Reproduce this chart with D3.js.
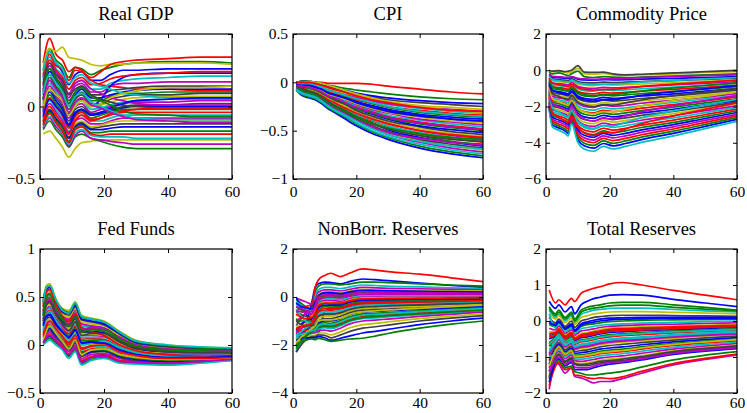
<!DOCTYPE html>
<html>
<head>
<meta charset="utf-8">
<script src="https://cdn.jsdelivr.net/npm/d3@7"></script>
<style>
  body { margin: 0; background: #fff; }
  text { font-family: "Palatino Linotype", "Book Antiqua", Palatino, "Liberation Serif", serif; fill: #000; }
</style>
</head>
<body>
<div id="wrapper"></div>
<script>
// all responses are stored in hundredths (value * 100)

const titles = ["Real GDP", "CPI", "Commodity Price", "Fed Funds", "NonBorr. Reserves", "Total Reserves"]
const xTicks = [0, 20, 40, 60]
const yTicks = [
  [-0.5, 0, 0.5],
  [-1, -0.5, 0, 0.5],
  [-6, -4, -2, 0, 2],
  [-0.5, 0, 0.5, 1],
  [-4, -2, 0, 2],
  [-2, -1, 0, 1, 2],
]

const gdpT = [1, 3, 5, 7, 9, 11, 13, 16, 19, 22, 26, 30, 40, 50, 60]
const gdpLines = [
  [20, 38, 30, 24, 15, 22, 24, 18, 18, 22, 25, 25, 26, 26, 26],
  [25, 40, 32, 28, 20, 27, 26, 22, 25, 27, 29, 30, 31, 31, 30],
  [30, 47, 36, 32, 24, 27, 25, 18, 15, 14, 13, 12, 12, 11, 11],
  [18, 34, 26, 22, 12, 16, 18, 12, 12, 16, 18, 19, 20, 21, 21],
  [12, 28, 22, 16, 6, 14, 16, 10, 10, 14, 16, 16, 17, 17, 17],
  [28, 40, 38, 41, 34, 33, 32, 29, 28, 29, 29, 30, 30, 30, 29],
  [10, 26, 20, 14, 4, 10, 14, 8, 8, 11, 12, 13, 14, 14, 14],
  [5, 18, 10, 4, -5, 2, 5, 0, 5, 14, 20, 22, 23, 23, 23],
  [6, 22, 14, 10, 0, 6, 10, 4, 4, 7, 9, 9, 10, 10, 10],
  [22, 36, 28, 26, 18, 25, 24, 20, 24, 29, 31, 32, 33, 34, 34],
  [2, 16, 10, 4, -6, 2, 4, -2, -1, 1, 3, 4, 5, 5, 5],
  [0, 14, 8, 2, -8, 0, 2, -4, -2, 0, 2, 3, 3, 4, 4],
  [-19, -17, -22, -28, -35, -29, -25, -24, -23, -23, -23, -23, -23, -23, -23],
  [-2, 12, 6, 0, -10, -2, 0, -5, -4, -2, 0, 1, 1, 2, 2],
  [8, 24, 18, 12, 2, 8, 12, 6, 6, 8, 10, 11, 12, 12, 12],
  [-16, -10, -16, -21, -28, -21, -19, -22, -24, -26, -28, -29, -29, -29, -29],
  [15, 32, 25, 20, 12, 18, 20, 15, 16, 19, 21, 22, 23, 24, 24],
  [-6, 4, -2, -8, -17, -9, -6, -10, -10, -8, -6, -6, -6, -6, -6],
  [-15, -8, -14, -19, -27, -20, -17, -22, -23, -24, -25, -26, -26, -26, -26],
  [3, 18, 12, 6, -4, 3, 6, 0, 1, 3, 5, 6, 7, 7, 7],
  [-10, -2, -8, -13, -21, -13, -11, -15, -14, -13, -12, -12, -12, -12, -12],
  [-3, 10, 4, -2, -12, -4, -2, -6, -5, -3, -1, 0, 0, 0, 0],
  [-4, 8, 2, -4, -14, -6, -3, -8, -6, -4, -2, -2, -2, -2, -2],
  [-5, 6, 0, -6, -15, -7, -4, -9, -8, -6, -4, -4, -4, -4, -4],
  [-14, -7, -12, -18, -26, -18, -16, -20, -21, -21, -21, -22, -22, -22, -22],
  [-8, 2, -4, -10, -18, -10, -8, -12, -12, -10, -8, -8, -8, -8, -8],
  [-9, 0, -6, -12, -20, -12, -10, -14, -13, -11, -10, -10, -10, -10, -10],
  [5, 20, 13, 8, -2, 5, 8, 2, 2, 5, 7, 8, 8, 9, 9],
  [-11, -3, -9, -14, -22, -14, -12, -16, -16, -15, -14, -14, -14, -14, -14],
  [-12, -4, -10, -15, -24, -15, -13, -18, -18, -17, -17, -17, -17, -17, -17],
  [-13, -5, -11, -17, -25, -16, -14, -19, -20, -19, -19, -19, -19, -19, -19],
  [24, 38, 30, 26, 16, 20, 22, 16, 14, 12, 9, 8, 6, 6, 6],
  [14, 30, 24, 18, 9, 16, 18, 12, 9, 6, 4, 2, 1, 1, 1],
  [-1, 12, 8, 4, -6, 0, 4, 0, 2, 6, 9, 11, 13, 13, 14],
  [16, 30, 22, 18, 8, 12, 14, 8, 5, 3, 1, 0, -1, -1, -1],
  [-7, 5, 0, -5, -13, -5, -2, -6, -4, -1, 2, 4, 5, 6, 6],
  [11, 26, 19, 12, 2, 10, 13, 7, 4, 1, -3, -5, -6, -7, -7],
  [-10, 0, -6, -12, -19, -10, -6, -10, -8, -5, -3, -2, -1, -1, -1],
  [9, 22, 16, 10, 0, 7, 9, 3, 0, -3, -6, -8, -9, -9, -9],
  [4, 18, 12, 6, -4, 3, 6, 1, -1, -4, -7, -9, -10, -11, -11],
]

const cpiT = [1, 3, 5, 7, 9, 11, 13, 16, 20, 25, 30, 40, 50, 60]
const cpiLines = [
  [-8, -14, -16, -18, -22, -27, -31, -37, -45, -53, -59, -68, -74, -78],
  [-7, -13, -15, -17, -21, -26, -30, -35, -43, -51, -57, -66, -72, -76],
  [0, 0, 0, 0, 0, -1, -1, -1, -1, -2, -4, -7, -10, -12],
  [-9, -12, -14, -16, -20, -25, -29, -34, -42, -50, -56, -64, -70, -74],
  [-6, -8, -10, -13, -17, -22, -26, -31, -39, -47, -54, -62, -68, -72],
  [-5, -7, -9, -12, -15, -21, -25, -30, -38, -45, -52, -60, -66, -70],
  [-7, -9, -11, -13, -17, -22, -25, -30, -38, -45, -51, -59, -64, -68],
  [-4, -6, -8, -10, -14, -19, -23, -28, -35, -42, -49, -57, -62, -66],
  [-6, -8, -9, -12, -15, -20, -23, -28, -35, -42, -48, -55, -61, -64],
  [-3, -5, -7, -9, -12, -17, -21, -25, -33, -40, -45, -53, -58, -62],
  [-5, -7, -8, -11, -14, -18, -22, -26, -33, -39, -45, -52, -57, -60],
  [-2, -4, -5, -8, -11, -15, -19, -23, -30, -37, -42, -50, -55, -58],
  [-4, -6, -7, -9, -12, -16, -20, -24, -30, -36, -41, -48, -53, -56],
  [-3, -5, -6, -8, -11, -15, -18, -22, -29, -35, -40, -46, -51, -54],
  [-2, -4, -5, -7, -10, -14, -17, -21, -27, -33, -38, -45, -49, -52],
  [-3, -4, -6, -8, -11, -14, -17, -21, -27, -32, -37, -43, -47, -50],
  [-1, -2, -4, -6, -9, -12, -15, -19, -25, -30, -35, -41, -45, -48],
  [-2, -3, -5, -6, -9, -13, -15, -19, -24, -29, -34, -39, -43, -46],
  [-1, -2, -4, -5, -8, -11, -14, -17, -23, -28, -32, -38, -41, -44],
  [-2, -3, -4, -6, -8, -12, -14, -17, -22, -27, -31, -36, -40, -42],
  [0, -1, -2, -4, -6, -10, -12, -15, -20, -25, -29, -34, -38, -40],
  [-1, -2, -3, -5, -7, -10, -12, -15, -20, -24, -28, -33, -36, -38],
  [0, -1, -2, -4, -6, -9, -11, -14, -18, -22, -26, -31, -34, -36],
  [-1, -2, -3, -4, -6, -9, -11, -13, -18, -21, -25, -29, -32, -34],
  [0, 0, -1, -3, -5, -8, -10, -12, -16, -20, -23, -27, -30, -32],
  [-1, 0, -1, -2, -4, -7, -9, -12, -15, -19, -22, -26, -28, -30],
  [0, 1, 0, -1, -3, -6, -8, -11, -14, -17, -20, -24, -26, -28],
  [0, 1, 1, 0, -2, -5, -7, -9, -12, -15, -18, -21, -23, -25],
  [0, 1, 1, 0, -2, -4, -6, -8, -11, -14, -16, -19, -21, -22],
  [0, 1, 1, 0, -1, -3, -4, -6, -8, -10, -12, -15, -17, -18],
  [-3, -6, -9, -11, -14, -18, -21, -26, -32, -38, -43, -50, -54, -57],
  [-1, -2, -2, -3, -5, -8, -10, -13, -17, -21, -25, -30, -33, -35],
  [-6, -10, -12, -14, -18, -23, -27, -32, -39, -46, -52, -58, -62, -65],
  [0, 0, 1, 0, -1, -3, -5, -8, -12, -16, -20, -25, -29, -31],
  [-4, -7, -9, -11, -15, -20, -24, -29, -36, -43, -48, -55, -59, -61],
  [-2, -3, -3, -5, -7, -11, -13, -16, -21, -26, -30, -35, -38, -40],
  [-5, -9, -11, -13, -16, -21, -25, -29, -36, -42, -47, -53, -57, -59],
  [0, 0, 0, -1, -3, -5, -7, -10, -14, -18, -21, -26, -29, -30],
  [-7, -11, -13, -15, -19, -24, -28, -33, -40, -48, -54, -61, -66, -69],
  [-3, -4, -5, -7, -10, -14, -16, -20, -26, -31, -36, -42, -46, -49],
]

const commT = [1, 2, 4, 6, 7, 8, 10, 12, 15, 18, 21, 25, 30, 40, 50, 60]
const commLines = [
  [-211, -301, -318, -335, -348, -284, -383, -417, -430, -404, -417, -404, -383, -348, -310, -271],
  [-203, -291, -307, -324, -336, -274, -369, -403, -415, -390, -403, -390, -369, -336, -299, -261],
  [-196, -280, -296, -312, -324, -264, -356, -388, -400, -376, -388, -376, -356, -324, -288, -252],
  [-219, -313, -331, -349, -362, -295, -398, -434, -447, -420, -434, -420, -398, -362, -322, -282],
  [-189, -270, -285, -300, -312, -254, -343, -373, -385, -362, -373, -362, -343, -312, -277, -243],
  [-5, -8, -5, -12, -15, -10, 10, -20, -22, -18, -25, -28, -25, -20, -12, -8],
  [0, -5, -2, -8, -5, 0, 25, -10, -12, -10, -20, -25, -22, -15, -8, 0],
  [-181, -259, -274, -289, -300, -244, -329, -359, -370, -348, -359, -348, -329, -300, -266, -233],
  [-174, -249, -263, -277, -288, -234, -316, -344, -355, -334, -344, -334, -316, -288, -256, -224],
  [-167, -238, -252, -265, -275, -224, -303, -330, -340, -320, -330, -320, -303, -275, -245, -214],
  [-159, -228, -241, -254, -263, -215, -289, -315, -325, -306, -315, -306, -289, -263, -234, -205],
  [-152, -217, -229, -242, -251, -205, -276, -301, -310, -291, -301, -291, -276, -251, -223, -195],
  [-145, -207, -218, -230, -239, -195, -263, -286, -295, -277, -286, -277, -263, -239, -212, -186],
  [-137, -196, -207, -218, -227, -185, -249, -272, -280, -263, -272, -263, -249, -227, -202, -176],
  [-130, -186, -196, -207, -215, -175, -236, -257, -265, -249, -257, -249, -236, -215, -191, -167],
  [-123, -175, -185, -195, -203, -165, -223, -243, -250, -235, -243, -235, -223, -203, -180, -158],
  [-115, -165, -174, -183, -190, -155, -209, -228, -235, -221, -228, -221, -209, -190, -169, -148],
  [-108, -154, -163, -172, -178, -145, -196, -213, -220, -207, -213, -207, -196, -178, -158, -139],
  [-100, -144, -152, -160, -166, -135, -182, -199, -205, -193, -199, -193, -182, -166, -148, -129],
  [-93, -133, -141, -148, -154, -125, -169, -184, -190, -179, -184, -179, -169, -154, -137, -120],
  [-86, -123, -130, -137, -142, -116, -156, -170, -175, -165, -170, -165, -156, -142, -126, -110],
  [-78, -112, -118, -125, -130, -106, -142, -155, -160, -150, -155, -150, -142, -130, -115, -101],
  [-71, -102, -107, -113, -117, -96, -129, -141, -145, -136, -141, -136, -129, -117, -104, -91],
  [-64, -91, -96, -101, -105, -86, -116, -126, -130, -122, -126, -122, -116, -105, -94, -82],
  [-56, -81, -85, -90, -93, -76, -102, -112, -115, -108, -112, -108, -102, -93, -83, -72],
  [-49, -70, -74, -78, -81, -66, -89, -97, -100, -94, -97, -94, -89, -81, -72, -63],
  [-42, -60, -63, -66, -69, -56, -76, -82, -85, -80, -82, -80, -76, -69, -61, -54],
  [-34, -49, -52, -55, -57, -46, -62, -68, -70, -66, -68, -66, -62, -57, -50, -44],
  [-27, -39, -41, -43, -45, -36, -49, -53, -55, -52, -53, -52, -49, -45, -40, -35],
  [-10, -20, -15, -25, -30, -20, -5, -35, -40, -35, -38, -40, -38, -32, -25, -20],
  [-144, -234, -259, -281, -288, -252, -317, -346, -360, -342, -346, -324, -295, -252, -216, -180],
  [-128, -208, -230, -250, -256, -224, -282, -307, -320, -304, -307, -288, -262, -224, -192, -160],
  [-112, -182, -202, -218, -224, -196, -246, -269, -280, -266, -269, -252, -230, -196, -168, -140],
  [-96, -156, -173, -187, -192, -168, -211, -230, -240, -228, -230, -216, -197, -168, -144, -120],
  [-80, -130, -144, -156, -160, -140, -176, -192, -200, -190, -192, -180, -164, -140, -120, -100],
  [-68, -111, -122, -133, -136, -119, -150, -163, -170, -162, -163, -153, -139, -119, -102, -85],
  [-56, -91, -101, -109, -112, -98, -123, -134, -140, -133, -134, -126, -115, -98, -84, -70],
  [-44, -72, -79, -86, -88, -77, -97, -106, -110, -105, -106, -99, -90, -77, -66, -55],
  [-32, -52, -58, -62, -64, -56, -70, -77, -80, -76, -77, -72, -66, -56, -48, -40],
  [-20, -33, -36, -39, -40, -35, -44, -48, -50, -48, -48, -45, -41, -35, -30, -25],
]

const fedT = [1, 2, 3, 5, 7, 9, 11, 13, 16, 20, 25, 30, 40, 50, 60]
const fedLines = [
  [3, 7, 9, 3, -2, -11, -3, -17, -13, -11, -17, -18, -20, -18, -15],
  [2, 5, 7, 2, -4, -12, -5, -19, -15, -13, -18, -19, -20, -18, -16],
  [5, 9, 11, 5, -1, -9, -2, -16, -12, -10, -16, -17, -19, -17, -15],
  [0, 3, 5, 0, -5, -14, -7, -21, -16, -14, -19, -20, -21, -19, -16],
  [7, 11, 13, 7, 1, -7, 0, -14, -10, -9, -14, -17, -18, -17, -14],
  [48, 62, 64, 48, 38, 36, 45, 31, 28, 25, 14, 5, 0, -2, -4],
  [8, 13, 15, 8, 2, -5, 2, -12, -8, -7, -13, -16, -17, -16, -14],
  [10, 15, 17, 10, 4, -4, 4, -10, -7, -6, -12, -15, -17, -16, -14],
  [12, 17, 19, 12, 5, -2, 6, -8, -5, -5, -11, -14, -16, -15, -13],
  [13, 19, 21, 13, 7, 0, 7, -7, -4, -3, -10, -13, -15, -14, -13],
  [15, 21, 23, 15, 8, 2, 9, -5, -2, -2, -9, -12, -15, -14, -12],
  [17, 23, 25, 17, 10, 3, 11, -3, -1, 0, -8, -11, -14, -13, -12],
  [18, 25, 27, 18, 11, 5, 13, -1, 1, 1, -7, -11, -13, -13, -11],
  [20, 27, 29, 20, 13, 7, 15, 1, 2, 2, -5, -10, -12, -12, -11],
  [22, 29, 31, 22, 14, 8, 16, 2, 4, 4, -4, -9, -12, -11, -11],
  [23, 32, 34, 23, 16, 10, 18, 4, 5, 5, -3, -8, -11, -11, -10],
  [25, 34, 36, 25, 17, 12, 20, 6, 7, 6, -2, -7, -10, -10, -10],
  [27, 36, 38, 27, 19, 14, 22, 8, 8, 8, -1, -6, -9, -10, -9],
  [28, 38, 40, 28, 20, 15, 24, 10, 10, 9, 0, -5, -9, -9, -9],
  [30, 40, 42, 30, 22, 17, 25, 11, 11, 10, 2, -5, -8, -8, -9],
  [31, 42, 44, 31, 23, 19, 27, 13, 13, 12, 3, -4, -7, -8, -8],
  [33, 44, 46, 33, 25, 21, 29, 15, 14, 13, 4, -3, -7, -7, -8],
  [35, 46, 48, 35, 26, 22, 31, 17, 16, 14, 5, -2, -6, -7, -7],
  [36, 48, 50, 36, 28, 24, 32, 18, 17, 16, 6, -1, -5, -6, -7],
  [38, 50, 52, 38, 29, 26, 34, 20, 19, 17, 7, 0, -4, -6, -6],
  [40, 52, 54, 40, 31, 27, 36, 22, 20, 18, 8, 1, -4, -5, -6],
  [41, 54, 56, 41, 32, 29, 38, 24, 22, 20, 9, 2, -3, -4, -6],
  [43, 56, 58, 43, 34, 31, 40, 26, 24, 21, 11, 2, -2, -4, -5],
  [45, 58, 60, 45, 35, 33, 41, 27, 25, 22, 12, 3, -1, -3, -5],
  [46, 60, 62, 46, 37, 34, 43, 29, 27, 24, 13, 4, -1, -3, -4],
  [40, 55, 58, 42, 30, 25, 33, 18, 14, 10, 0, -6, -10, -12, -13],
  [15, 30, 35, 25, 15, 5, 12, 0, 2, 4, -3, -8, -12, -13, -13],
  [35, 45, 47, 35, 28, 22, 30, 16, 18, 16, 8, 0, -4, -5, -6],
  [5, 15, 20, 12, 4, -4, 5, -10, -5, -4, -10, -13, -15, -15, -14],
  [25, 42, 45, 32, 22, 15, 24, 10, 12, 12, 3, -3, -7, -8, -8],
  [20, 30, 32, 22, 14, 8, 16, 2, 3, 2, -6, -10, -13, -13, -12],
  [30, 50, 53, 38, 28, 20, 30, 14, 16, 16, 6, -1, -5, -6, -7],
  [10, 20, 25, 17, 9, 2, 10, -4, -1, 0, -7, -11, -14, -14, -13],
  [45, 60, 62, 47, 36, 33, 44, 30, 27, 24, 13, 4, 0, -2, -3],
  [2, 8, 10, 4, -3, -10, -3, -18, -13, -12, -17, -18, -19, -17, -15],
]

const nbrT = [1, 2, 4, 6, 7, 8, 10, 12, 15, 18, 22, 26, 30, 40, 50, 60]
const nbrLines = [
  [-228, -200, -120, -20, 40, 55, 62, 60, 55, 65, 75, 72, 68, 58, 48, 40],
  [-10, -20, -40, -50, 20, 45, 55, 55, 50, 55, 62, 62, 60, 55, 50, 45],
  [-60, -50, -40, -30, 40, 71, 90, 99, 85, 100, 117, 112, 106, 95, 80, 64],
  [-30, -40, -60, -60, 0, 30, 40, 40, 35, 42, 50, 48, 45, 42, 38, 35],
  [-5, -10, -20, -30, -10, 20, 30, 30, 25, 32, 40, 38, 36, 34, 32, 30],
  [-80, -70, -60, -50, -20, 10, 20, 22, 18, 25, 32, 30, 29, 28, 26, 25],
  [-120, -100, -70, -40, -20, 5, 15, 15, 10, 18, 25, 24, 23, 22, 21, 20],
  [0, -30, -70, -100, -120, -150, -60, -50, -45, -35, -25, -24, -23, -21, -19, -18],
  [-40, -50, -60, -70, -40, -5, 5, 5, 2, 10, 18, 17, 16, 16, 15, 15],
  [-150, -130, -100, -70, -50, -10, 0, -2, -5, 3, 10, 10, 10, 10, 10, 10],
  [-20, -30, -50, -60, -50, -20, -8, -8, -10, -3, 5, 5, 5, 5, 5, 5],
  [-100, -90, -70, -60, -60, -30, -15, -15, -18, -8, 0, 0, 0, 0, 0, 0],
  [-180, -150, -110, -80, -60, -35, -20, -22, -25, -12, -5, -4, -3, -3, -3, -3],
  [-60, -70, -80, -90, -70, -40, -28, -30, -30, -18, -10, -9, -8, -8, -8, -8],
  [-140, -120, -100, -90, -75, -45, -35, -35, -35, -22, -15, -14, -13, -12, -12, -12],
  [-90, -100, -100, -100, -80, -55, -40, -42, -40, -28, -20, -19, -18, -17, -16, -15],
  [-200, -170, -130, -100, -90, -65, -55, -55, -50, -40, -30, -29, -28, -26, -24, -22],
  [-50, -70, -100, -110, -95, -75, -62, -62, -58, -45, -35, -34, -32, -30, -27, -25],
  [-160, -140, -120, -110, -100, -80, -70, -70, -65, -50, -40, -39, -37, -34, -31, -28],
  [-120, -120, -120, -120, -110, -90, -80, -80, -72, -58, -48, -46, -44, -40, -36, -32],
  [-190, -170, -140, -120, -115, -100, -90, -90, -80, -65, -55, -53, -50, -46, -41, -36],
  [-170, -160, -140, -130, -120, -108, -100, -100, -90, -73, -62, -60, -57, -52, -46, -40],
  [-210, -190, -160, -140, -130, -115, -108, -110, -98, -82, -70, -68, -65, -58, -51, -45],
  [-130, -140, -140, -140, -135, -125, -118, -120, -108, -92, -80, -77, -74, -66, -59, -52],
  [-220, -200, -170, -150, -145, -135, -128, -132, -120, -102, -90, -87, -83, -74, -66, -58],
  [-150, -150, -150, -150, -150, -140, -138, -142, -130, -112, -100, -96, -92, -81, -72, -63],
  [-200, -190, -170, -160, -160, -150, -150, -158, -145, -128, -115, -110, -104, -90, -80, -70],
  [-230, -210, -180, -165, -165, -158, -160, -170, -158, -143, -130, -124, -117, -100, -88, -78],
  [-180, -175, -170, -170, -170, -165, -170, -180, -172, -162, -150, -143, -135, -115, -100, -88],
  [-200, -190, -180, -175, -178, -172, -178, -185, -180, -175, -172, -163, -152, -130, -113, -100],
  [-70, -80, -90, -85, -65, -35, -25, -25, -25, -15, -8, -7, -6, -5, -4, -2],
  [-160, -150, -130, -110, -95, -70, -60, -62, -58, -45, -38, -36, -33, -28, -23, -18],
  [-40, -45, -55, -60, -45, -15, -2, 0, -3, 5, 12, 12, 12, 12, 12, 12],
  [-190, -175, -150, -130, -120, -100, -95, -95, -88, -72, -62, -58, -54, -47, -40, -34],
  [-100, -110, -120, -115, -100, -80, -72, -72, -66, -52, -42, -40, -37, -33, -29, -25],
  [-25, -35, -45, -50, -25, 5, 18, 18, 14, 22, 28, 27, 26, 24, 22, 20],
  [-215, -195, -165, -145, -138, -128, -122, -125, -114, -98, -86, -82, -78, -70, -62, -55],
  [-130, -125, -120, -110, -90, -60, -48, -48, -46, -33, -25, -24, -22, -20, -18, -15],
  [-170, -160, -150, -140, -135, -120, -112, -115, -104, -88, -76, -72, -69, -61, -54, -48],
  [-60, -60, -65, -70, -35, 0, 10, 10, 6, 14, 22, 20, 19, 18, 17, 16],
]

const totT = [1, 3, 4, 6, 8, 9, 11, 13, 15, 17, 20, 24, 30, 40, 50, 60]
const totLines = [
  [55, 35, 45, 25, 40, 20, 45, 55, 62, 66, 72, 73, 72, 60, 50, 40],
  [40, 20, 30, 10, 25, 5, 30, 38, 42, 45, 50, 52, 52, 45, 38, 30],
  [86, 50, 59, 45, 63, 54, 77, 85, 91, 95, 103, 107, 100, 85, 72, 59],
  [30, 10, 20, 0, 15, -5, 18, 25, 30, 32, 35, 36, 36, 32, 28, 25],
  [-190, -117, -120, -145, -130, -154, -158, -165, -172, -168, -168, -160, -145, -122, -107, -95],
  [20, 5, 15, -5, 8, -10, 10, 15, 20, 22, 25, 26, 26, 24, 22, 20],
  [10, -5, 5, -15, 0, -18, 0, 5, 10, 12, 15, 16, 16, 15, 14, 13],
  [0, -10, 0, -20, -8, -25, -8, -2, 2, 5, 8, 9, 10, 10, 10, 10],
  [-10, -15, -5, -25, -15, -30, -15, -10, -8, -5, -2, 0, 2, 3, 4, 5],
  [-180, -125, -115, -135, -130, -150, -152, -158, -160, -158, -160, -155, -140, -118, -104, -92],
  [20, -20, -10, -30, -20, -35, -22, -18, -15, -12, -10, -8, -6, -4, -2, 0],
  [-20, -25, -15, -35, -25, -40, -28, -25, -22, -18, -15, -13, -11, -9, -7, -5],
  [-30, -30, -20, -40, -30, -45, -35, -32, -28, -24, -20, -18, -16, -14, -12, -10],
  [-40, -35, -25, -45, -35, -50, -40, -38, -34, -30, -26, -24, -22, -19, -16, -14],
  [-50, -40, -30, -50, -40, -55, -46, -44, -40, -36, -32, -30, -27, -24, -21, -18],
  [-60, -45, -35, -55, -45, -60, -52, -50, -46, -42, -38, -35, -32, -28, -25, -22],
  [-70, -50, -40, -60, -50, -65, -58, -56, -52, -48, -44, -41, -38, -33, -29, -26],
  [-80, -55, -45, -65, -55, -70, -64, -62, -58, -54, -50, -47, -44, -38, -33, -30],
  [-90, -60, -50, -70, -60, -75, -70, -68, -64, -60, -56, -53, -50, -43, -38, -34],
  [-100, -65, -55, -75, -65, -80, -76, -74, -70, -66, -62, -59, -55, -48, -42, -38],
  [-110, -70, -60, -80, -70, -85, -82, -80, -76, -72, -68, -65, -60, -53, -47, -42],
  [-120, -75, -65, -85, -75, -90, -88, -86, -82, -78, -75, -72, -66, -58, -52, -46],
  [-60, -80, -70, -90, -80, -95, -94, -92, -88, -84, -81, -78, -72, -63, -56, -50],
  [-130, -85, -75, -95, -85, -100, -100, -98, -95, -91, -88, -85, -78, -68, -61, -55],
  [-100, -90, -80, -100, -90, -105, -106, -104, -101, -97, -94, -91, -84, -73, -65, -59],
  [-140, -95, -85, -105, -95, -110, -112, -110, -107, -103, -100, -97, -90, -78, -70, -63],
  [-150, -100, -90, -110, -100, -115, -118, -116, -113, -109, -106, -103, -96, -83, -74, -67],
  [-160, -105, -95, -115, -105, -120, -124, -124, -120, -116, -113, -110, -102, -88, -79, -72],
  [-170, -115, -105, -125, -115, -135, -135, -135, -130, -125, -120, -116, -108, -93, -84, -77],
  [-120, -115, -110, -130, -125, -140, -145, -150, -150, -148, -145, -140, -128, -108, -95, -85],
  [-35, -32, -22, -42, -32, -48, -38, -35, -31, -27, -23, -21, -19, -16, -14, -12],
  [-65, -48, -38, -58, -48, -62, -55, -53, -49, -45, -41, -38, -35, -30, -27, -24],
  [-95, -62, -52, -72, -62, -78, -73, -71, -67, -63, -59, -56, -52, -45, -40, -36],
  [-125, -82, -72, -92, -82, -98, -97, -95, -92, -88, -85, -82, -75, -65, -58, -52],
  [-155, -102, -92, -112, -102, -118, -121, -120, -116, -112, -110, -106, -99, -85, -76, -69],
  [-5, -12, -2, -22, -12, -28, -12, -6, -3, 0, 3, 5, 6, 7, 7, 7],
  [35, 15, 25, 5, 20, 0, 24, 32, 36, 38, 42, 44, 44, 38, 33, 28],
  [-45, -38, -28, -48, -38, -52, -43, -41, -37, -33, -29, -27, -25, -21, -18, -16],
  [-85, -58, -48, -68, -58, -72, -67, -65, -61, -57, -53, -50, -47, -40, -35, -32],
  [-140, -110, -100, -120, -110, -128, -130, -130, -125, -120, -116, -113, -105, -90, -81, -74],
]

function drawResponses() {

  // 1. Panels and data access

  const panels = [
    { t: gdpT, lines: gdpLines },
    { t: cpiT, lines: cpiLines },
    { t: commT, lines: commLines },
    { t: fedT, lines: fedLines },
    { t: nbrT, lines: nbrLines },
    { t: totT, lines: totLines },
  ]
  const lineColors = ["#0000ff", "#008000", "#ff0000", "#00bfbf", "#bf00bf", "#bfbf00", "#404040"]

  // 2. Dimensions

  const dimensions = {
    width: 747,
    height: 413,
    tick: 4,
  }
  const boxes = [
    { x: 40, y: 34, w: 192, h: 145, pad: 7 },
    { x: 293, y: 34, w: 190, h: 145, pad: 7 },
    { x: 546, y: 34, w: 191, h: 145, pad: 7 },
    { x: 40, y: 249, w: 192, h: 144, pad: 4 },
    { x: 293, y: 249, w: 190, h: 144, pad: 4 },
    { x: 546, y: 249, w: 191, h: 144, pad: 4 },
  ]

  // 3. Canvas

  const wrapper = d3.select("#wrapper")
    .append("svg")
      .attr("width", dimensions.width)
      .attr("height", dimensions.height)

  const fmt = d3.format("~g")

  panels.forEach((panel, i) => {
    const box = boxes[i]
    const bounds = wrapper.append("g")
      .attr("transform", `translate(${box.x}, ${box.y})`)

    // 4. Scales

    const xScale = d3.scaleLinear()
      .domain([0, 60])
      .range([0, box.w])

    const yScale = d3.scaleLinear()
      .domain(d3.extent(yTicks[i]))
      .range([box.h, 0])

    bounds.append("clipPath")
        .attr("id", `clip-${i}`)
      .append("rect")
        .attr("width", box.w)
        .attr("height", box.h)

    // 5. Lines

    const lineGenerator = d3.line()
      .x((d, j) => xScale(panel.t[j]))
      .y(d => yScale(d / 100))
      .curve(d3.curveMonotoneX)

    bounds.append("g")
        .attr("clip-path", `url(#clip-${i})`)
      .selectAll("path")
      .data(panel.lines)
      .join("path")
        .attr("d", lineGenerator)
        .attr("fill", "none")
        .attr("stroke", (d, j) => lineColors[j % lineColors.length])
        .attr("stroke-width", 1.7)
        .attr("stroke-linejoin", "round")

    // 6. Axes (ticks inside, on all four sides)

    bounds.append("g")
      .attr("transform", `translate(0, ${box.h})`)
      .call(d3.axisBottom(xScale).tickValues(xTicks).tickSize(-dimensions.tick).tickSizeOuter(0).tickPadding(box.pad).tickFormat(fmt))
    bounds.append("g")
      .call(d3.axisTop(xScale).tickValues(xTicks).tickSize(-dimensions.tick).tickSizeOuter(0).tickFormat(""))
    bounds.append("g")
      .call(d3.axisLeft(yScale).tickValues(yTicks[i]).tickSize(-dimensions.tick).tickSizeOuter(0).tickPadding(5).tickFormat(fmt))
    bounds.append("g")
      .attr("transform", `translate(${box.w}, 0)`)
      .call(d3.axisRight(yScale).tickValues(yTicks[i]).tickSize(-dimensions.tick).tickSizeOuter(0).tickFormat(""))

    bounds.selectAll(".domain").remove()
    bounds.selectAll(".tick line").attr("stroke", "#000")
    bounds.selectAll(".tick text")
        .style("font-family", "'Liberation Serif', serif")
        .style("font-size", "15.5px")
        .attr("fill", "#000")

    bounds.append("rect")
        .attr("width", box.w)
        .attr("height", box.h)
        .attr("fill", "none")
        .attr("stroke", "#000")
        .attr("stroke-width", 1.2)

    bounds.append("text")
        .attr("x", box.w / 2)
        .attr("y", -14)
        .attr("text-anchor", "middle")
        .style("font-size", "18.5px")
        .text(titles[i])
  })
}
drawResponses()
</script>
</body>
</html>
